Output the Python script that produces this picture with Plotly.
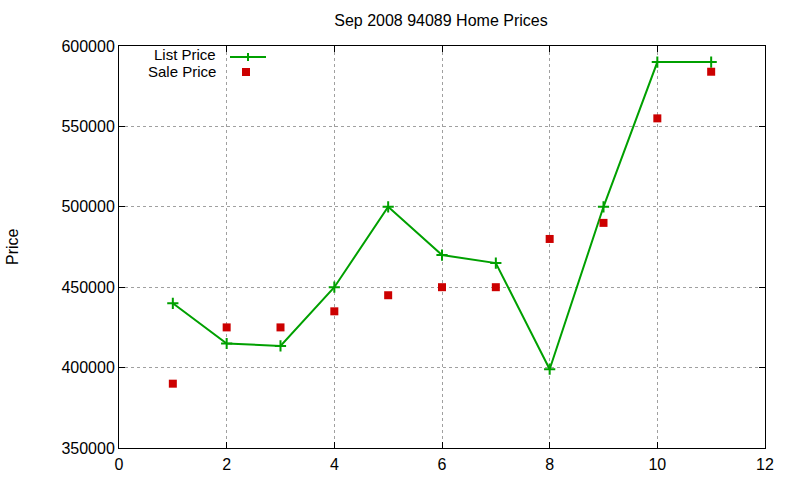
import plotly.graph_objects as go

months = [1, 2, 3, 4, 5, 6, 7, 8, 9, 10, 11]
list_price = [440000, 415000, 413500, 450000, 500000, 470000, 465000, 399000, 500000, 590000, 590000]
sale_price = [390000, 425000, 425000, 435000, 445000, 450000, 450000, 480000, 490000, 555000, 584000]
x_ticks = [0, 2, 4, 6, 8, 10, 12]
y_ticks = [350000, 400000, 450000, 500000, 550000, 600000]
y_tick_labels = [str(v) for v in y_ticks]

GREEN = "#00a000"
RED = "#cc0000"
FONT = "Liberation Sans, Arial, sans-serif"
FS = 16

fig = go.Figure()
fig.add_trace(go.Scatter(
    x=months, y=list_price, mode="lines+markers", name="List Price",
    line=dict(color=GREEN, width=2),
    marker=dict(symbol="cross-thin", size=8, line=dict(color=GREEN, width=2)),
))
fig.add_trace(go.Scatter(
    x=months, y=sale_price, mode="markers", name="Sale Price",
    marker=dict(symbol="square", size=8, color=RED),
))

axis_common = dict(
    showline=True, linecolor="black", linewidth=1, mirror="ticks",
    ticks="inside", ticklen=6, tickcolor="black",
    showgrid=True, gridcolor="#a0a0a0", griddash="dot", gridwidth=1,
    zeroline=False, automargin=False,
    tickfont=dict(family=FONT, size=FS, color="black"),
)

fig.update_layout(
    width=800, height=480,
    margin=dict(l=119, r=35, t=46, b=32),
    paper_bgcolor="white", plot_bgcolor="white",
    showlegend=False,
    title=dict(text="Sep 2008 94089 Home Prices", x=0.5512, xanchor="center",
               y=1 - 20 / 480, yanchor="middle",
               font=dict(family=FONT, size=FS, color="black")),
    xaxis=dict(range=[0, 12], tickvals=x_ticks, ticklabelstandoff=2, **axis_common),
    yaxis=dict(range=[350000, 600000], tickvals=y_ticks, ticktext=y_tick_labels,
               **axis_common),
)

# y axis title
fig.add_annotation(x=12 / 800, y=1 - 247 / 480, xref="paper", yref="paper",
                   text="Price", textangle=-90, showarrow=False,
                   xanchor="center", yanchor="middle",
                   font=dict(family=FONT, size=FS, color="black"))
# annotations above use the full page; re-express them in paper coordinates
def px_to_paper(px, py):
    return (px - 119) / (800 - 119 - 35), 1 - (py - 46) / (480 - 46 - 32)

fig.layout.annotations[0].x, fig.layout.annotations[0].y = px_to_paper(12, 247)

# legend (gnuplot style: text to the left of the sample)
for label, py in (("List Price", 55), ("Sale Price", 71)):
    ax, ay = px_to_paper(217, py)
    fig.add_annotation(x=ax, y=ay, xref="paper", yref="paper", text=label,
                       showarrow=False, xanchor="right", yanchor="middle",
                       borderpad=0,
                       font=dict(family=FONT, size=15, color="black"))

lx0, ly = px_to_paper(230, 57)
lx1, _ = px_to_paper(266, 57)
fig.add_shape(type="line", xref="paper", yref="paper", x0=lx0, x1=lx1, y0=ly, y1=ly,
              line=dict(color=GREEN, width=2))
cx, cy0 = px_to_paper(248, 53)
_, cy1 = px_to_paper(248, 61)
fig.add_shape(type="line", xref="paper", yref="paper", x0=cx, x1=cx, y0=cy0, y1=cy1,
              line=dict(color=GREEN, width=2))
sx0, sy0 = px_to_paper(242, 68)
sx1, sy1 = px_to_paper(250, 76)
fig.add_shape(type="rect", xref="paper", yref="paper", x0=sx0, x1=sx1, y0=sy0, y1=sy1,
              fillcolor=RED, line=dict(width=0))

fig.write_html("out.html")
